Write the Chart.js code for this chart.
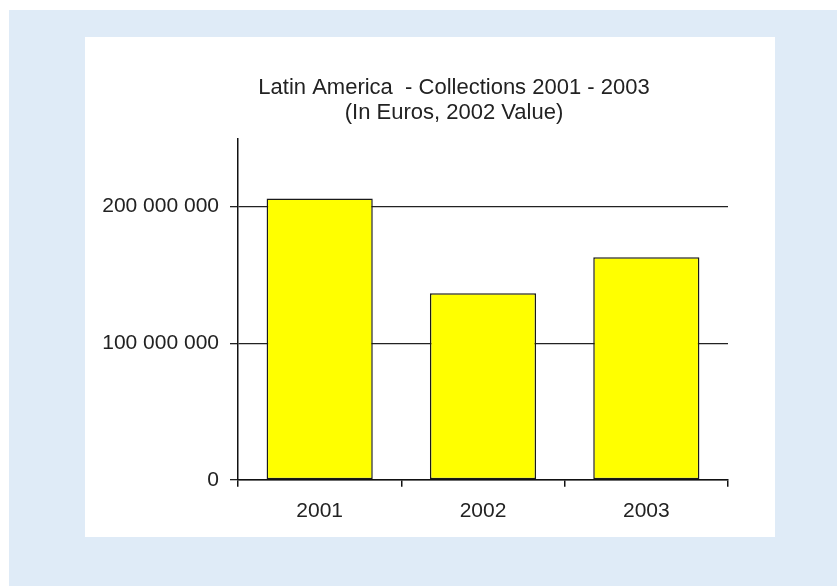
<!DOCTYPE html>
<html>
<head>
<meta charset="utf-8">
<script src="https://cdn.jsdelivr.net/npm/chart.js@4"></script>
<style>
    html, body { margin: 0; padding: 0; background: #ffffff; }
    #frame {
        position: absolute;
        left: 9px; top: 10px;
        width: 828px; height: 576px;
        background: #dfebf7;
    }
    #panel {
        position: absolute;
        left: 85px; top: 37px;
        width: 690px; height: 500px;
        background: #ffffff;
    }
</style>
</head>
<body>
<div id="frame"></div>
<div id="panel"><canvas id="collectionsChart" width="690" height="500"></canvas></div>
<script>
const years = ["2001", "2002", "2003"];
const collections = [206000000, 136500000, 163000000];
const yTickValues = [0, 100000000, 200000000];
const yMax = 250000000;
const titleLines = ["Latin America  - Collections 2001 - 2003", "(In Euros, 2002 Value)"];

const ink = "#222222";
const axisFont = { family: "'Liberation Sans', Arial, sans-serif", size: 21 };

// 200000000 -> "200 000 000"
function spaced(v) {
    return String(v).replace(/\B(?=(\d{3})+(?!\d))/g, " ");
}

// the title sits a little right of the panel centre
const shiftTitle = {
    id: "shiftTitle",
    afterLayout(chart) {
        chart.titleBlock.left = 95;
    },
};

let ctx = document.getElementById("collectionsChart").getContext("2d");
let collectionsChart = new Chart(ctx, {
    type: "bar",
    data: {
        labels: years,
        datasets: [
            {
                data: collections,
                backgroundColor: "#ffff00",
                borderColor: "#1a1a1a",
                borderWidth: 1.5,
                borderSkipped: false,
                barPercentage: 0.65,
                categoryPercentage: 1.0,
            },
        ],
    },
    options: {
        responsive: false,
        animation: false,
        layout: {
            padding: { left: 0, right: 47, top: 0, bottom: 1 },
        },
        plugins: {
            legend: { display: false },
            tooltip: { enabled: false },
            title: {
                display: true,
                text: titleLines,
                color: ink,
                font: { family: "'Liberation Sans', Arial, sans-serif", size: 22, weight: "normal", lineHeight: 1.12 },
                padding: { top: 39, bottom: 13 },
            },
        },
        scales: {
            x: {
                grid: {
                    display: true,
                    drawOnChartArea: false,
                    drawTicks: true,
                    tickLength: 7,
                    offset: true,
                    color: "#111111",
                    lineWidth: 1.5,
                },
                border: { color: "#111111", width: 1.5 },
                ticks: { color: ink, font: axisFont, padding: 12 },
            },
            y: {
                min: 0,
                max: yMax,
                afterBuildTicks: (axis) => {
                    axis.ticks = yTickValues.map((v) => ({ value: v }));
                },
                afterFit: (axis) => {
                    axis.width = 153;
                },
                grid: {
                    color: "#222222",
                    lineWidth: 1.3,
                    tickLength: 8,
                },
                border: { color: "#111111", width: 1.5 },
                ticks: {
                    color: ink,
                    font: axisFont,
                    padding: 11,
                    callback: (value) => spaced(value),
                },
            },
        },
    },
    plugins: [shiftTitle],
});
</script>
</body>
</html>
